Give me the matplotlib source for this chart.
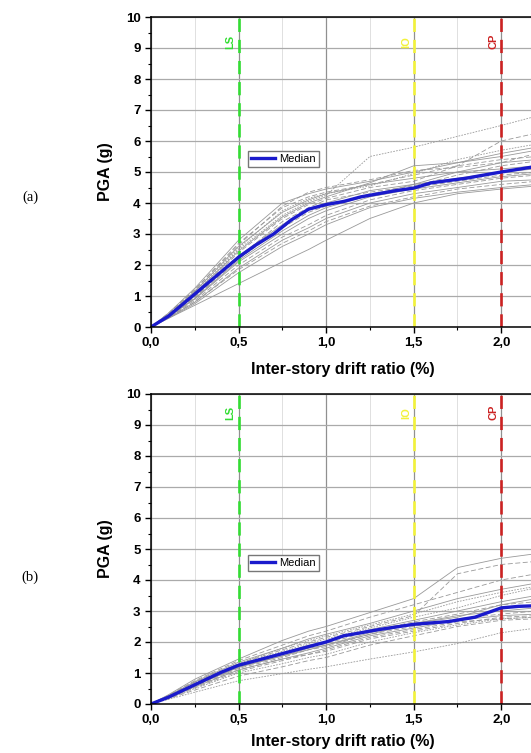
import matplotlib.pyplot as plt
from matplotlib.ticker import MultipleLocator, FuncFormatter

plt.rcParams['font.family'] = ['Liberation Sans', 'DejaVu Sans']

# drift grid (%) shared by the gray record curves
drift = [0, 0.1, 0.25, 0.5, 0.75, 0.9, 1.0, 1.25, 1.5, 1.75, 2.0, 2.2]

# (a) PGA (g) of each record at the drift grid
pga_a_solid = [
    [0, 0.45, 1.25, 2.8, 4.0, 4.3, 4.45, 4.7, 5.0, 5.3, 5.6, 5.8],
    [0, 0.4, 1.15, 2.6, 3.7, 4.1, 4.3, 4.6, 4.8, 5.0, 5.3, 5.4],
    [0, 0.37, 1.0, 2.3, 3.3, 3.8, 4.0, 4.4, 4.6, 4.8, 5.0, 5.1],
    [0, 0.33, 0.9, 2.1, 3.0, 3.5, 3.75, 4.2, 4.45, 4.65, 4.85, 4.95],
    [0, 0.3, 0.8, 1.9, 2.8, 3.2, 3.5, 4.0, 4.3, 4.5, 4.7, 4.75],
    [0, 0.28, 0.75, 1.75, 2.6, 3.0, 3.3, 3.85, 4.15, 4.35, 4.5, 4.6],
    [0, 0.28, 0.7, 1.4, 2.1, 2.5, 2.8, 3.5, 4.0, 4.3, 4.45, 4.55],
    [0, 0.34, 0.92, 2.15, 3.1, 3.6, 3.85, 4.25, 4.6, 5.0, 5.1, 5.2],
    [0, 0.4, 1.1, 2.45, 3.55, 4.0, 4.2, 4.65, 5.2, 5.3, 5.5, 5.7],
]
pga_a_dashed = [
    [0, 0.42, 1.2, 2.7, 3.85, 4.2, 4.35, 4.6, 4.9, 5.2, 5.4, 5.5],
    [0, 0.38, 1.05, 2.4, 3.5, 3.95, 4.15, 4.5, 4.7, 5.2, 6.0, 6.25],
    [0, 0.35, 0.95, 2.2, 3.2, 3.7, 3.9, 4.3, 4.5, 4.7, 4.9, 5.0],
    [0, 0.32, 0.85, 2.0, 2.9, 3.3, 3.6, 4.1, 4.4, 4.6, 4.8, 4.9],
    [0, 0.3, 0.8, 1.85, 2.7, 3.1, 3.4, 3.9, 4.2, 4.45, 4.6, 4.7],
    [0, 0.45, 1.2, 2.65, 3.9, 4.35, 4.5, 4.75, 5.05, 5.15, 5.3, 5.6],
    [0, 0.36, 0.98, 2.25, 3.4, 3.85, 4.1, 4.35, 4.55, 4.9, 5.2, 5.35],
]
pga_a_dotted = [
    [0, 0.4, 1.1, 2.5, 3.6, 4.05, 4.25, 5.5, 5.8, 6.15, 6.5, 6.8],
    [0, 0.42, 1.15, 2.55, 3.75, 4.15, 4.3, 4.55, 4.95, 5.4, 5.7, 5.9],
]
median_a_x = [0, 0.1, 0.3, 0.5, 0.6, 0.7, 0.8, 0.9, 1.0, 1.1, 1.2, 1.4, 1.5, 1.6, 1.8, 2.0, 2.2]
median_a_y = [0, 0.35, 1.3, 2.25, 2.65, 3.0, 3.45, 3.8, 3.95, 4.05, 4.2, 4.4, 4.48, 4.65, 4.8, 5.0, 5.18]

# (b)
pga_b_solid = [
    [0, 0.3, 0.8, 1.45, 2.05, 2.35, 2.5, 2.95, 3.4, 4.4, 4.7, 4.85],
    [0, 0.27, 0.72, 1.35, 1.8, 2.1, 2.25, 2.6, 3.0, 3.4, 3.7, 3.9],
    [0, 0.24, 0.65, 1.25, 1.65, 1.9, 2.0, 2.4, 2.7, 3.0, 3.3, 3.5],
    [0, 0.22, 0.6, 1.18, 1.55, 1.8, 1.9, 2.3, 2.6, 2.85, 3.0, 3.1],
    [0, 0.2, 0.55, 1.1, 1.45, 1.65, 1.8, 2.2, 2.45, 2.7, 2.85, 2.9],
    [0, 0.22, 0.6, 1.2, 1.55, 1.75, 1.9, 2.25, 2.6, 2.8, 3.2, 3.4],
]
pga_b_dashed = [
    [0, 0.28, 0.75, 1.4, 1.9, 2.2, 2.35, 2.8, 3.2, 3.6, 4.0, 4.2],
    [0, 0.26, 0.7, 1.3, 1.75, 2.0, 2.15, 2.5, 2.85, 4.2, 4.5, 4.6],
    [0, 0.23, 0.62, 1.2, 1.6, 1.85, 1.95, 2.35, 2.65, 2.9, 3.2, 3.3],
    [0, 0.22, 0.58, 1.15, 1.5, 1.75, 1.85, 2.25, 2.5, 2.75, 2.9, 3.0],
    [0, 0.2, 0.52, 1.05, 1.4, 1.6, 1.7, 2.1, 2.35, 2.6, 2.8, 2.85],
    [0, 0.17, 0.45, 0.9, 1.2, 1.4, 1.5, 1.9, 2.2, 2.5, 2.7, 2.75],
    [0, 0.21, 0.57, 1.1, 1.45, 1.6, 1.75, 2.15, 2.4, 2.65, 2.75, 2.8],
]
pga_b_dotted = [
    [0, 0.25, 0.68, 1.28, 1.7, 1.95, 2.1, 2.45, 2.8, 3.1, 3.5, 3.75],
    [0, 0.18, 0.5, 1.0, 1.3, 1.5, 1.6, 2.0, 2.3, 2.55, 2.75, 2.8],
    [0, 0.15, 0.38, 0.75, 0.98, 1.12, 1.2, 1.45, 1.68, 1.95, 2.3, 2.45],
    [0, 0.26, 0.7, 1.3, 1.8, 2.05, 2.2, 2.55, 2.9, 3.3, 3.6, 3.8],
]
median_b_x = [0, 0.1, 0.25, 0.4, 0.5, 0.7, 0.9, 1.0, 1.1, 1.3, 1.5, 1.7, 1.85, 1.95, 2.0, 2.1, 2.2]
median_b_y = [0, 0.22, 0.62, 1.02, 1.25, 1.55, 1.85, 2.0, 2.2, 2.4, 2.57, 2.66, 2.8, 3.0, 3.1, 3.15, 3.17]

limits = [0.5, 1.5, 2.0]
limit_names = ['LS', 'IO', 'CP']
limit_colors = ['#33dd33', '#f2f23a', '#cc2222']


def draw(ax, solid, dashed, dotted, mx, my, label_y, leg_y, xlab_y):
    ax.set_xlim(0, 2.17)
    ax.set_ylim(0, 10)
    ax.xaxis.set_major_locator(MultipleLocator(0.5))
    ax.xaxis.set_minor_locator(MultipleLocator(0.25))
    ax.yaxis.set_major_locator(MultipleLocator(1))
    ax.yaxis.set_minor_locator(MultipleLocator(0.5))
    ax.xaxis.set_major_formatter(FuncFormatter(lambda v, p: ('%.1f' % v).replace('.', ',')))
    ax.grid(which='major', axis='y', color='#aaaaaa', lw=0.9)
    ax.grid(which='major', axis='x', color='#909090', lw=0.9)
    ax.grid(which='minor', axis='x', color='#e0e0e0', lw=0.7)
    ax.set_axisbelow(True)

    for y in solid:
        ax.plot(drift, y, color='#999999', lw=0.6)
    for y in dashed:
        ax.plot(drift, y, color='#999999', lw=0.6, dashes=(6, 3))
    for y in dotted:
        ax.plot(drift, y, color='#999999', lw=0.6, dashes=(2, 1.5))

    for x, name, c in zip(limits, limit_names, limit_colors):
        ax.axvline(x, color=c, lw=1.9, dashes=(5, 3))
        ax.text(x - 0.045, label_y, name, color=c, rotation=90, fontsize=8,
                fontweight='bold', ha='center', va='center')

    line, = ax.plot(mx, my, color='#1a1acc', lw=2.4)
    ax.legend([line], ['Median'], loc='center', bbox_to_anchor=(0.755, leg_y),
              bbox_transform=ax.transData, fancybox=False, edgecolor='#777777',
              fontsize=8, handlelength=2.2, handletextpad=0.3, borderpad=0.3,
              borderaxespad=0, framealpha=1)

    ax.spines['right'].set_visible(False)
    for s in ['left', 'bottom', 'top']:
        ax.spines[s].set_linewidth(1.1)
    ax.tick_params(which='major', direction='out', length=4, width=1, labelsize=9.5)
    ax.tick_params(which='minor', direction='out', length=2.5, width=0.8)
    for t in ax.get_xticklabels() + ax.get_yticklabels():
        t.set_fontweight('bold')
    ax.set_xlabel('Inter-story drift ratio (%)', fontsize=11.5, fontweight='bold')
    ax.set_ylabel('PGA (g)', fontsize=11.5, fontweight='bold')
    ax.xaxis.set_label_coords(0.505, xlab_y)
    ax.yaxis.set_label_coords(-0.1, 0.5)


fig = plt.figure(figsize=(5.31, 7.53), dpi=100)
ax1 = fig.add_axes([151 / 531, 1 - 327 / 753, 380 / 531, 310 / 753])
ax2 = fig.add_axes([151 / 531, 1 - 704 / 753, 380 / 531, 310 / 753])

draw(ax1, pga_a_solid, pga_a_dashed, pga_a_dotted, median_a_x, median_a_y, 9.2, 5.42, -0.112)
draw(ax2, pga_b_solid, pga_b_dashed, pga_b_dotted, median_b_x, median_b_y, 9.4, 4.55, -0.097)

fig.text(30 / 531, 1 - 197 / 753, '(a)', family='Liberation Serif', fontsize=10.5,
         ha='center', va='center')
fig.text(30 / 531, 1 - 577 / 753, '(b)', family='Liberation Serif', fontsize=10.5,
         ha='center', va='center')

fig.savefig('out.png', dpi=100)
